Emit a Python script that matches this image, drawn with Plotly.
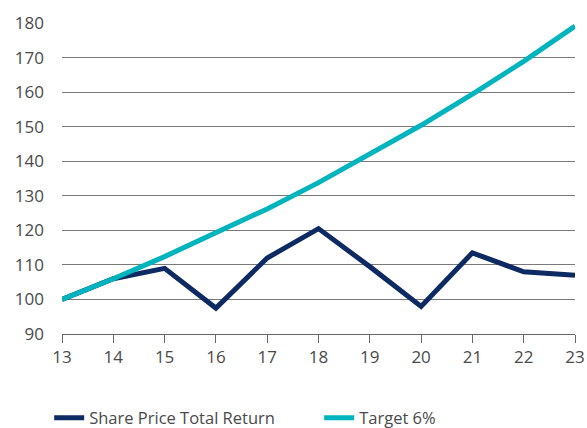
import plotly.graph_objects as go

years = [13, 14, 15, 16, 17, 18, 19, 20, 21, 22, 23]
share_price = [100, 106, 109, 97.5, 112, 120.5, 109.5, 98, 113.5, 108, 107]
target = [100, 106, 112.4, 119.1, 126.2, 133.8, 141.9, 150.4, 159.4, 168.9, 179.1]
x_ticks = [13, 14, 15, 16, 17, 18, 19, 20, 21, 22, 23]
y_ticks = [90, 100, 110, 120, 130, 140, 150, 160, 170, 180]

fig = go.Figure()
fig.add_trace(go.Scatter(x=years, y=share_price, mode="lines", name="Share Price Total Return",
                         line=dict(color="#0d2a62", width=5)))
fig.add_trace(go.Scatter(x=years, y=target, mode="lines", name="Target 6%",
                         line=dict(color="#00b4be", width=5)))

fig.update_layout(
    width=587, height=428,
    margin=dict(l=62, r=12, t=23, b=94, autoexpand=False),
    paper_bgcolor="white", plot_bgcolor="white",
    font=dict(family="Open Sans, sans-serif", size=17, color="#4a4a4a"),
    showlegend=True,
    legend=dict(orientation="h", x=-0.025, xanchor="left", y=-0.27, yanchor="middle",
                font=dict(size=16.5, color="#4a4a4a"), entrywidth=225, entrywidthmode="pixels",
                traceorder="normal"),
    xaxis=dict(range=[13, 23], tickvals=x_ticks, showgrid=False, zeroline=False,
               showline=True, linecolor="#666666", linewidth=1, automargin=False,
               ticks="outside", ticklen=8, tickcolor="#666666", fixedrange=True),
    yaxis=dict(range=[90, 180], tickvals=y_ticks, showgrid=True, gridcolor="#7a7a7a",
               gridwidth=1, zeroline=False, showline=False, ticks="", ticklabelstandoff=17,
               automargin=False, fixedrange=True),
)

fig.write_html("out.html", config={"displayModeBar": False},
               post_script="document.body.style.margin='0';")
